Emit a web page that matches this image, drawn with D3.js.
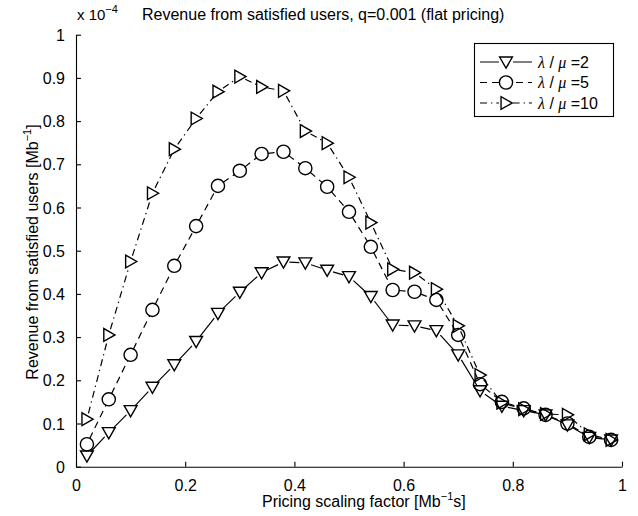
<!DOCTYPE html>
<html>
<head>
<meta charset="utf-8">
<script src="https://cdn.jsdelivr.net/npm/d3@7"></script>
<style>
  html, body { margin: 0; padding: 0; background: #fff; }
  svg { display: block; }
  text { font-family: "Liberation Sans", Arial, Helvetica, sans-serif; fill: #000; }
</style>
</head>
<body>
<svg id="chart" width="638" height="516"></svg>
<script>
// Pricing scaling factor values (Mb^-1 s)
const pricing = [0.02, 0.06, 0.10, 0.14, 0.18, 0.22, 0.26, 0.30, 0.34, 0.38, 0.42, 0.46, 0.50,
                 0.54, 0.58, 0.62, 0.66, 0.70, 0.74, 0.78, 0.82, 0.86, 0.90, 0.94, 0.98];

// Revenue from satisfied users, in units of 1e-4
const revLoad2  = [0.025, 0.079, 0.130, 0.184, 0.236, 0.290, 0.355, 0.404, 0.449, 0.474, 0.472, 0.455, 0.440,
                   0.394, 0.328, 0.326, 0.315, 0.259, 0.176, 0.140, 0.130, 0.120, 0.097, 0.068, 0.062];
const revLoad5  = [0.052, 0.156, 0.259, 0.363, 0.465, 0.557, 0.650, 0.685, 0.724, 0.729, 0.691, 0.648, 0.590,
                   0.509, 0.409, 0.405, 0.386, 0.305, 0.191, 0.150, 0.135, 0.120, 0.100, 0.069, 0.062];
const revLoad10 = [0.110, 0.305, 0.475, 0.633, 0.735, 0.806, 0.868, 0.903, 0.879, 0.870, 0.777, 0.749, 0.670,
                   0.565, 0.457, 0.449, 0.411, 0.326, 0.212, 0.148, 0.133, 0.122, 0.120, 0.075, 0.062];

const loadRatios = ["2", "5", "10"];
const xTicks = [0, 0.2, 0.4, 0.6, 0.8, 1];
const yTicks = [0, 0.1, 0.2, 0.3, 0.4, 0.5, 0.6, 0.7, 0.8, 0.9, 1];

const series = [
  { ratio: loadRatios[0], values: revLoad2,  marker: "tdown",  dash: null },
  { ratio: loadRatios[1], values: revLoad5,  marker: "circle", dash: "7,5" },
  { ratio: loadRatios[2], values: revLoad10, marker: "tright", dash: "7,4,1.3,4" }
];

const svg = d3.select("#chart");
const FS = 16;

const x = d3.scaleLinear().domain([0, 1]).range([76, 622]);
const y = d3.scaleLinear().domain([0, 1]).range([466.7, 34.7]);

// Axes: ticks pointing inward, no box
const xAxis = d3.axisBottom(x).tickValues(xTicks).tickSizeInner(-5).tickSizeOuter(0)
  .tickFormat(d => d3.format("~g")(d)).tickPadding(9);
const yAxis = d3.axisLeft(y).tickValues(yTicks).tickSizeInner(-5).tickSizeOuter(0)
  .tickFormat(d => d3.format("~g")(d)).tickPadding(10);

const gx = svg.append("g").attr("transform", `translate(0,${y(0)})`).call(xAxis);
const gy = svg.append("g").attr("transform", `translate(${x(0)},0)`).call(yAxis);
[gx, gy].forEach(g => {
  g.select(".domain").attr("stroke", "#000").attr("stroke-width", 1.1);
  g.selectAll(".tick line").attr("stroke", "#000").attr("stroke-width", 1.1);
  g.selectAll(".tick text").attr("font-size", FS).attr("font-family", "Liberation Sans, Arial, sans-serif").attr("fill", "#000");
});
gx.selectAll(".tick text").attr("dy", "0.95em");
gy.selectAll(".tick text").attr("dx", "-1").attr("dy", "0.35em");

// Exponent marker above the y axis
const expo = svg.append("text").attr("x", 77).attr("y", 20).attr("font-size", FS - 1);
expo.append("tspan").text("x 10");
expo.append("tspan").attr("dy", -7).attr("font-size", FS - 5).text("\u22124");

// Title
svg.append("text").attr("x", 142).attr("y", 20).attr("font-size", FS)
  .text("Revenue from satisfied users, q=0.001 (flat pricing)");

// X label
const xl = svg.append("text").attr("x", 262).attr("y", 507).attr("font-size", FS);
xl.append("tspan").text("Pricing scaling factor [Mb");
xl.append("tspan").attr("dy", -7).attr("font-size", FS - 5).text("\u22121");
xl.append("tspan").attr("dy", 7).text("s]");

// Y label
const yl = svg.append("text").attr("transform", "translate(38,252) rotate(-90)")
  .attr("text-anchor", "middle").attr("font-size", FS);
yl.append("tspan").text("Revenue from satisfied users [Mb");
yl.append("tspan").attr("dy", -7).attr("font-size", FS - 5).text("\u22121");
yl.append("tspan").attr("dy", 7).text("]");

// Marker shapes (unfilled)
function drawMarker(g, kind, cx, cy) {
  if (kind === "circle") {
    g.append("circle").attr("cx", cx).attr("cy", cy).attr("r", 6.6)
      .attr("fill", "none").attr("stroke", "#000").attr("stroke-width", 1.4);
  } else if (kind === "tdown") {
    const w = 6.4, h = 6.2;
    g.append("path").attr("d", `M${cx - w},${cy - h * 0.8}L${cx + w},${cy - h * 0.8}L${cx},${cy + h * 1.0}Z`)
      .attr("fill", "none").attr("stroke", "#000").attr("stroke-width", 1.4).attr("stroke-linejoin", "miter");
  } else {
    const w = 6.2, h = 6.4;
    g.append("path").attr("d", `M${cx - w * 0.8},${cy - h}L${cx - w * 0.8},${cy + h}L${cx + w * 1.0},${cy}Z`)
      .attr("fill", "none").attr("stroke", "#000").attr("stroke-width", 1.4).attr("stroke-linejoin", "miter");
  }
}

// Connecting segments stop at marker outlines
const gap = 6;
series.forEach(s => {
  const g = svg.append("g");
  const pts = pricing.map((p, i) => [x(p), y(s.values[i])]);
  const segs = [];
  for (let i = 0; i < pts.length - 1; i++) {
    const [x0, y0] = pts[i], [x1, y1] = pts[i + 1];
    const dx = x1 - x0, dy = y1 - y0, L = Math.hypot(dx, dy);
    if (L <= 2 * gap + 1) continue;
    const ux = dx / L, uy = dy / L;
    segs.push([[x0 + ux * gap, y0 + uy * gap], [x1 - ux * gap, y1 - uy * gap]]);
  }
  g.selectAll("line").data(segs).join("line")
    .attr("x1", d => d[0][0]).attr("y1", d => d[0][1])
    .attr("x2", d => d[1][0]).attr("y2", d => d[1][1])
    .attr("stroke", "#000").attr("stroke-width", 1.2)
    .attr("stroke-dasharray", s.dash);
  pts.forEach(([px, py]) => drawMarker(g, s.marker, px, py));
});

// Legend
const lg = svg.append("g");
lg.append("rect").attr("x", 474.5).attr("y", 43.5).attr("width", 139).attr("height", 73)
  .attr("fill", "#fff").attr("stroke", "#000").attr("stroke-width", 1.1);
series.forEach((s, i) => {
  const ry = 62 + i * 20.5;
  lg.append("line").attr("x1", 480).attr("x2", 532).attr("y1", ry).attr("y2", ry)
    .attr("stroke", "#000").attr("stroke-width", 1.2).attr("stroke-dasharray", s.dash);
  lg.append("rect").attr("x", 499).attr("y", ry - 8).attr("width", 14).attr("height", 16).attr("fill", "#fff");
  drawMarker(lg, s.marker, 506, ry);
  const t = lg.append("text").attr("x", 538).attr("y", ry + 5.5).attr("font-size", FS);
  t.append("tspan").attr("font-family", "Liberation Serif, serif").attr("font-style", "italic").text("\u03bb");
  t.append("tspan").text(" / ");
  t.append("tspan").attr("font-family", "Liberation Serif, serif").attr("font-style", "italic").text("\u03bc");
  t.append("tspan").text(" =" + s.ratio);
});
</script>
</body>
</html>
